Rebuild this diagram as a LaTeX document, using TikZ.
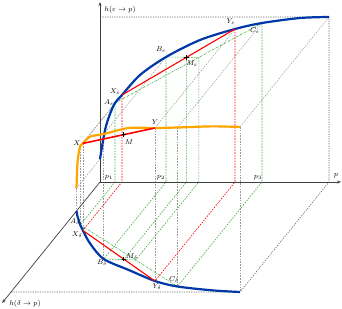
\documentclass[tikz,border=0pt]{standalone}
\usetikzlibrary{arrows.meta}
\definecolor{curveblue}{RGB}{0,56,168}
\definecolor{curveorange}{RGB}{255,165,0}
\definecolor{projgreen}{RGB}{70,175,70}

\begin{document}
\begin{tikzpicture}[x=1pt,y=-1pt,font=\fontsize{7.5}{9}\selectfont,
  ax/.style={-{Stealth[length=4pt,width=3pt]},draw=black!75,line width=0.7pt},
  frm/.style={draw=black!60,dash pattern=on 1.2pt off 1.2pt,line width=0.6pt},
  gd/.style={draw=black!40,dash pattern=on 1.6pt off 1.2pt,line width=0.5pt},
  gn/.style={draw=projgreen,dash pattern=on 1.6pt off 1.2pt,line width=0.6pt},
  gnc/.style={draw=projgreen,dash pattern=on 2pt off 1pt on 0.6pt off 1pt,line width=0.6pt},
  rdd/.style={draw=red,dash pattern=on 1.6pt off 1.2pt,line width=0.6pt},
  hcurve/.style={draw=curveblue,line width=2.2pt},
  gcurve/.style={draw=curveorange,line width=2.2pt},
  chord/.style={draw=red,line width=1.1pt},
  mk/.style={draw=black,line width=1pt},
  lbl/.style={inner sep=0.5pt}]
\useasboundingbox (0,0) rectangle (342,308);

% (p, h(delta->p), h(eps->p)) axes
\begin{scope}[shift={(100,182)},x={(1pt,0pt)},y={(-89pt,-110pt)},z={(0pt,1pt)}]
\coordinate (O) at (0,0,0);
\coordinate (hetip) at (0,0,180);
\coordinate (ptip) at (241,0,0);
\coordinate (hdtip) at (0,1.1,0);
\coordinate (Ht) at (0,0,165);
\coordinate (Dl) at (0,1,0);
\foreach \n/\p/\d/\e in {S/0/.264/23, A/15/.39/79, X/22/.44/87, B/66/.70/125,
    M/86.4/.702/124.6, D/98.8/.709/124.6, Y/135/.9/153, C/162/.95/159, E/229/1/165} {
  \coordinate (\n) at (\p,\d,\e);
  \coordinate (\n e) at (\p,0,\e);
  \coordinate (\n d) at (\p,\d,0);
  \coordinate (\n p) at (\p,0,0);
}

% frame
\draw[frm] (Ht) -- (Ee) -- (Ep) -- (Ed) -- (Dl);

% projections of the curve points
\foreach \n in {S,A,X,B,Y,C,E} {
  \draw[gd] (\n) -- (\n e);
  \draw[gd] (\n) -- (\n d);
}
\foreach \n in {A,B,M,D,C}
  \draw[gn] (\n e) -- (\n p) -- (\n d);
\draw[gn] (Be) -- (De);
\draw[gn] (Bd) -- (Dd);
\draw[gnc] (Ae) -- (Ce);
\draw[gnc] (Ad) -- (Cd);
\foreach \n in {X,Y}
  \draw[rdd] (\n e) -- (\n p) -- (\n d);

% axes
\draw[ax] (O) -- (hetip);
\draw[ax] (O) -- (ptip);
\draw[ax] (O) -- (hdtip);

% curves
\draw[hcurve] plot[smooth] coordinates {(0,0,23) (5,0,52) (10,0,68) (15,0,79) (22,0,87)
  (40,0,107) (66,0,125) (100,0,142) (135,0,153) (162,0,159) (200,0,164) (229,0,165)};
\draw[hcurve] plot[smooth] coordinates {(0,.264,0) (5,.31,0) (10,.35,0) (15,.39,0) (22,.44,0)
  (40,.56,0) (66,.70,0) (100,.80,0) (135,.90,0) (162,.95,0) (200,.985,0) (229,1,0)};
\draw[gcurve] plot[smooth] coordinates {(0,.264,23) (5,.31,52) (10,.35,68) (15,.39,79) (22,.44,87)
  (40,.56,107) (66,.70,125) (100,.80,142) (135,.90,153) (162,.95,159) (200,.985,164) (229,1,165)};

% chords
\draw[chord,line width=1.6pt] (X) -- (Y);
\draw[chord] (Xe) -- (Ye);
\draw[chord] (Xd) -- (Yd);
\end{scope}

\foreach \n in {M,Me,Md}
  \draw[mk] (\n) +(-2.2,0) -- +(2.2,0) +(0,-2.2) -- +(0,2.2);

% labels
\node[lbl] (lhe) at (120,10) {$h(\varepsilon\to p)$};
\node[lbl] (lhd) at (25,304) {$h(\delta\to p)$};
\node[lbl] (lp) at (336,176) {$p$};
\node[lbl] (lX) at (77,143) {$X$};
\node[lbl] (lY) at (155,122) {$Y$};
\node[lbl] (lM) at (129,142) {$M$};
\node[lbl] (lXe) at (115,92) {$X_\varepsilon$};
\node[lbl] (lAe) at (109,103) {$A_\varepsilon$};
\node[lbl] (lBe) at (161,50) {$B_\varepsilon$};
\node[lbl] (lMe) at (192,64) {$M_\varepsilon$};
\node[lbl] (lYe) at (231,22) {$Y_\varepsilon$};
\node[lbl] (lCe) at (255,31) {$C_\varepsilon$};
\node[lbl] (lAd) at (75,222) {$A_\delta$};
\node[lbl] (lXd) at (77,235) {$X_\delta$};
\node[lbl] (lBd) at (102,263) {$B_\delta$};
\node[lbl] (lMd) at (132,257) {$M_\delta$};
\node[lbl] (lYd) at (157,287) {$Y_\delta$};
\node[lbl] (lCd) at (174,280) {$C_\delta$};
\node[lbl] (lp1) at (109,178) {$p_1$};
\node[lbl] (lp2) at (161,178) {$p_2$};
\node[lbl] (lp3) at (258,178) {$p_3$};
\end{tikzpicture}
\end{document}
